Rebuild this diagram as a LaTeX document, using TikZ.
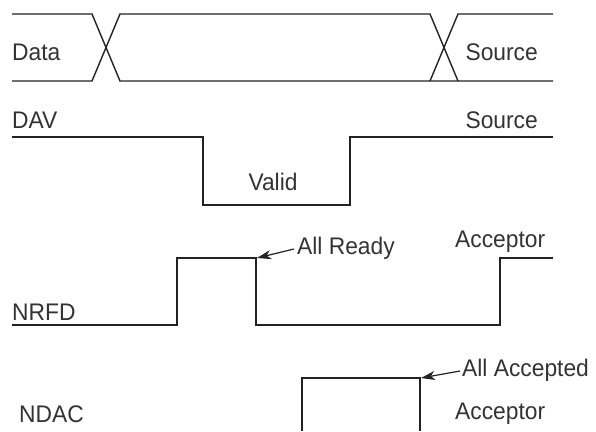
\documentclass[tikz,border=0pt]{standalone}
\usepackage{fontspec}
\setmainfont[FakeStretch=0.95]{Liberation Sans}
\usetikzlibrary{arrows.meta}
\definecolor{ink}{HTML}{222222}
\definecolor{txt}{HTML}{333333}
\begin{document}
\begin{tikzpicture}[x=1pt,y=-1pt,
  wave/.style={draw=ink,line width=1.4pt,line join=miter},
  lbl/.style={text=txt,font=\fontsize{24}{26}\selectfont,inner sep=0pt},
  ptr/.style={draw=ink,line width=1.2pt,-{Stealth[length=14pt,width=9pt,inset=4pt]}}]
\useasboundingbox (0,0) rectangle (596,431);
% Data
\draw[wave] (12,14) -- (92,14) -- (120,81) -- (553,81);
\draw[wave] (12,81) -- (92,81) -- (120,14) -- (430,14) -- (458,81);
\draw[wave] (430,81) -- (458,14) -- (553,14);
\node[lbl,anchor=west] (data) at (12,52) {Data};
\node[lbl,anchor=east] (src1) at (538,52) {Source};
% DAV
\draw[wave] (12,137) -- (203,137) -- (203,205) -- (350,205) -- (350,137) -- (553,137);
\node[lbl,anchor=west] (dav) at (12,120) {DAV};
\node[lbl,anchor=east] (src2) at (538,120) {Source};
\node[lbl] (valid) at (273,182) {Valid};
% NRFD
\draw[wave] (12,325) -- (177,325) -- (177,258) -- (256,258) -- (256,325) -- (500,325) -- (500,258) -- (553,258);
\node[lbl,anchor=west] (nrfd) at (12,312) {NRFD};
\node[lbl,anchor=west] (ready) at (297,248) {All Ready};
\node[lbl,anchor=west] (acc1) at (455,242) {Acceptor};
\coordinate (rdy) at (257,258);
\draw[ptr] (ready.west) ++(-3,1) -- (rdy);
% NDAC
\draw[wave] (302,431) -- (302,378) -- (420,378) -- (420,431);
\node[lbl,anchor=west] (ndac) at (19,414) {NDAC};
\node[lbl,anchor=west] (acc2) at (455,414) {Acceptor};
\node[lbl,anchor=west] (accd) at (462,370) {All Accepted};
\coordinate (acd) at (421,378);
\draw[ptr] (accd.west) ++(-2,1) -- (acd);
\end{tikzpicture}
\end{document}
